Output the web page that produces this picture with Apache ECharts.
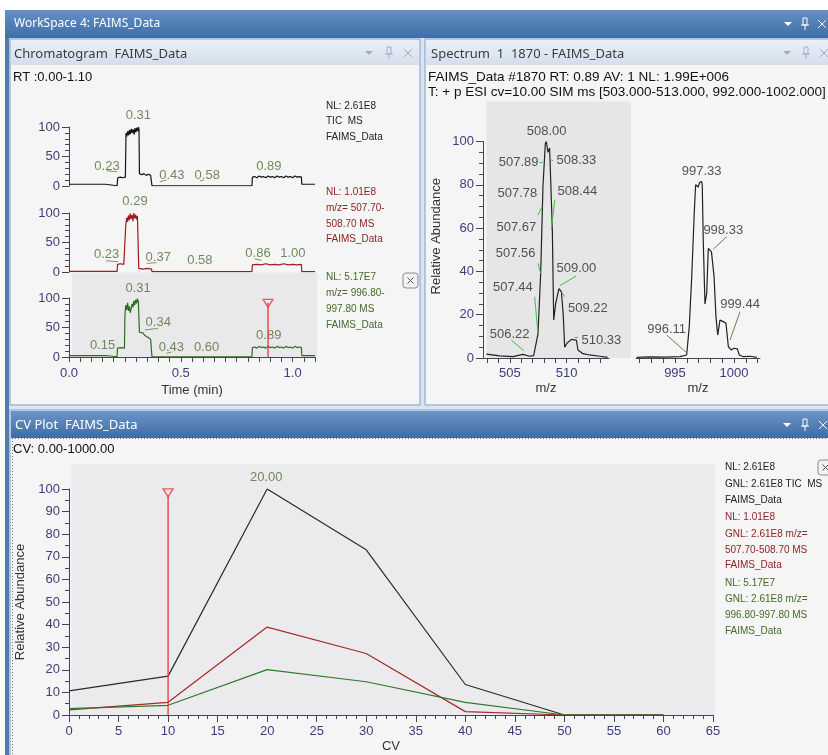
<!DOCTYPE html>
<html><head><meta charset="utf-8">
<script src="https://cdn.jsdelivr.net/npm/echarts@6/dist/echarts.min.js"></script>
<style>html,body{margin:0;padding:0;background:#fff}#c{width:828px;height:755px}</style>
</head><body><div id="c"></div>
<script>
// ================= DATA =================
// Chromatogram (time in min, relative abundance %)
const timeTicks = [0,0.05,0.1,0.15,0.2,0.25,0.3,0.35,0.4,0.45,0.5,0.55,0.6,0.65,0.7,0.75,0.8,0.85,0.9,0.95,1.0,1.05,1.1];
const timeLabels = [0,0.5,1.0];
const ticTrace = [[0,3],[0.04,3],[0.08,3],[0.12,3],[0.164,3],[0.166,0.4],[0.215,0.4],[0.218,14],[0.23,15],[0.24,14],[0.252,15],[0.255,90],[0.259,84],[0.263,93],[0.267,86],[0.271,95],[0.275,88],[0.279,97],[0.283,90],[0.287,96],[0.291,87],[0.295,98],[0.299,91],[0.303,99],[0.307,93],[0.311,100],[0.313,96],[0.315,21],[0.325,19],[0.335,21],[0.345,18],[0.355,20],[0.365,18],[0.369,19],[0.371,0.4],[0.5,0.4],[0.65,0.4],[0.818,0.4],[0.82,15],[0.83,16],[0.84,14],[0.85,17],[0.86,15],[0.87,16],[0.88,14],[0.89,17],[0.9,15],[0.91,16],[0.92,14],[0.93,17],[0.94,15],[0.95,16],[0.96,14],[0.97,17],[0.98,15],[0.99,16],[1.0,14],[1.01,17],[1.02,15],[1.03,16],[1.039,15],[1.041,3],[1.1,3]];
const mz508Trace = [[0,1],[0.1,1],[0.215,1],[0.217,13],[0.23,14],[0.245,13],[0.252,14],[0.254,80],[0.258,92],[0.262,85],[0.266,96],[0.27,88],[0.274,99],[0.278,90],[0.282,97],[0.286,86],[0.29,100],[0.294,91],[0.298,97],[0.302,89],[0.306,95],[0.31,92],[0.312,6],[0.33,5],[0.35,6],[0.369,5],[0.371,0.5],[0.6,0.5],[0.818,0.5],[0.82,12],[0.84,13],[0.86,12],[0.88,14],[0.9,12],[0.92,13],[0.94,12],[0.96,14],[0.98,12],[1.0,13],[1.02,12],[1.039,13],[1.041,0.5],[1.1,0.5]];
const mz997Trace = [[0,2.5],[0.05,2.5],[0.1,2.5],[0.164,2.5],[0.166,0.4],[0.215,0.4],[0.217,15],[0.232,16],[0.248,15],[0.25,70],[0.254,88],[0.258,80],[0.262,92],[0.266,78],[0.27,86],[0.274,75],[0.278,82],[0.282,90],[0.286,84],[0.29,95],[0.294,88],[0.298,97],[0.302,91],[0.306,99],[0.31,94],[0.313,97],[0.315,42],[0.322,40],[0.33,41],[0.338,37],[0.346,38],[0.354,33],[0.36,35],[0.365,30],[0.369,31],[0.371,0.4],[0.6,0.4],[0.818,0.4],[0.82,16],[0.83,17],[0.84,15],[0.85,18],[0.86,16],[0.87,17],[0.88,15],[0.89,18],[0.9,16],[0.91,17],[0.92,15],[0.93,18],[0.94,16],[0.95,17],[0.96,15],[0.97,18],[0.98,16],[0.99,17],[1.0,15],[1.01,18],[1.02,16],[1.03,17],[1.039,16],[1.041,2.5],[1.1,2.5]];
const ticPeaks = [['0.31',0.31,119],['0.23',0.17,32.7],['0.43',0.46,17.5],['0.58',0.618,17.5],['0.89',0.894,32.7]];
const mz508Peaks = [['0.29',0.295,119],['0.23',0.168,30.5],['0.37',0.399,24.9],['0.58',0.585,19.2],['0.86',0.845,31.7],['1.00',1.001,31.7]];
const mz997Peaks = [['0.31',0.309,116],['0.34',0.399,58.8],['0.15',0.15,20.3],['0.43',0.458,16.4],['0.60',0.615,16.4],['0.89',0.893,36]];
const ticLeaders = [[[0.168,26],[0.215,24]],[[0.406,7.3],[0.436,10.2]],[[0.585,8.5],[0.603,10]]];
const mz508Leaders = [[[0.165,19],[0.22,17.5]],[[0.347,14.7],[0.392,15.8]],[[0.83,22],[0.86,20]]];
const mz997Leaders = [[[0.339,45.8],[0.399,48.6]],[[0.436,6.3],[0.458,8.5]]];
const chromMarkerTime = 0.89;

// Spectrum (m/z, relative abundance %)
const specTicks1 = [503,504,505,506,507,508,509,510,511,512,513];
const specLabels1 = [505,510];
const specTicks2 = [992,993,994,995,996,997,998,999,1000,1001,1002];
const specLabels2 = [995,1000];
const spectrum1 = [[502.92,1.8],[504.09,1.0],[505.26,0.6],[506.15,1.7],[506.74,0.8],[507.09,1.1],[507.18,1.4],[507.47,11],[507.71,39],[507.91,79],[508.12,99],[508.21,100],[508.35,95],[508.5,97],[508.74,59],[508.86,17.5],[509.03,25],[509.32,32],[509.54,30.6],[509.7,20],[509.83,5],[510.03,6.8],[510.42,8.6],[510.86,8.3],[511.0,3.7],[511.44,2],[512.03,1.4],[512.91,0.8],[513.62,0.3]];
const spectrum2 = [[991.75,0.3],[992.88,0.5],[994.15,0.4],[995.42,0.6],[995.99,1.4],[996.21,14.5],[996.42,37.6],[996.64,68],[996.75,80],[996.84,80.7],[996.97,79],[997.08,81],[997.26,81.5],[997.31,80],[997.4,53],[997.54,25],[997.69,30],[997.82,50.6],[997.97,51],[998.09,49],[998.19,49.6],[998.31,37.6],[998.47,19],[998.62,10.6],[998.81,17.5],[999.09,16.8],[999.32,16],[999.52,5.2],[999.75,3.7],[1000.0,4.5],[1000.28,4.2],[1000.45,1.4],[1000.79,0.6],[1001.36,0.8],[1001.92,0.3]];
const spec1Peaks = [['508.00',508.24,104.5],['507.89',505.77,90.5],['508.33',510.86,91.1],['507.78',505.65,75.8],['508.44',510.95,76.8],['507.67',505.56,60.4],['507.56',505.5,48.4],['509.00',510.86,41.4],['507.44',505.26,32.7],['509.22',511.88,23],['506.22',504.97,11.1],['510.33',513.07,8.3]];
const spec1Leaders = [[[507.62,90.2],[507.86,90.2]],[[508.5,91.9],[508.8,91.1]],[[507.47,66],[507.86,70.2]],[[508.95,73],[508.65,59.1]],[[507.47,43.7],[507.71,39.1]],[[510.86,37.9],[509.39,33.4]],[[507.18,28.3],[507.47,11.4]],[[509.54,30.6],[509.83,28.3]],[[505.12,8.3],[506.21,3.4]],[[510.71,9.8],[511.0,9.8]]];
const spec2Peaks = [['997.33',997.26,86],['998.33',999.09,58.8],['999.44',1000.51,24.9],['996.11',994.3,13.3]];
const spec2Leaders = [[[999.38,56],[998.25,50.3]],[[1000.51,21.4],[999.66,8.3]],[[994.3,10.6],[995.99,2.4]]];

// CV plot
const cvValues = [0,10,20,30,40,50,60];
const cvTic = [10.7,17.2,100,73.1,13.5,0,0];
const cvMz508 = [2.3,5.6,38.9,27.2,1.5,0,0];
const cvMz997 = [2.8,4.3,20.1,14.7,5.6,0,0];
const cvPeaks = [['20.00',19.9,105.3]];
const cvMarkerCV = 10;

// ================= STYLE / LAYOUT =================
const FONT = '"Liberation Sans", Arial, sans-serif';
const UI = '"Noto Sans", "Open Sans", sans-serif';
const AX = '#3e4658';
const LBL = '#3b3e78';
const C_BLACK = '#151515', C_RED = '#9a1e1e', C_GREEN = '#2e6c22';
const LBL_GREEN = '#4f6e33';

function yAxisCfg(gi, o) {
  return {
    type: 'value', gridIndex: gi, min: 0, max: 100, interval: o.interval, show: o.show !== false,
    axisLine: {show: true, lineStyle: {color: AX, width: 1}},
    axisTick: {show: true, length: 7, lineStyle: {color: AX}},
    minorTick: {show: true, splitNumber: o.minor, length: 4, lineStyle: {color: AX}},
    splitLine: {show: false}, minorSplitLine: {show: false},
    axisLabel: {color: LBL, fontSize: 13, fontFamily: FONT, margin: 9},
    name: o.name || '', nameLocation: 'middle', nameGap: o.nameGap || 0,
    nameTextStyle: {color: '#333', fontSize: 13, fontFamily: FONT, padding: o.namePad || 0}
  };
}
function xAxisCustom(gi, min, max, ticks, labels, fmt, o) {
  return {
    type: 'value', gridIndex: gi, min: min, max: max, show: o.show !== false,
    axisLine: {show: true, onZero: false, lineStyle: {color: AX, width: 1}},
    axisTick: {show: true, length: o.tickLen || 5, customValues: ticks, lineStyle: {color: AX}},
    splitLine: {show: false},
    axisLabel: {color: LBL, fontSize: 13, fontFamily: FONT, margin: o.margin || 9, customValues: labels, formatter: fmt},
    name: o.name || '', nameLocation: 'middle', nameGap: o.nameGap || 0,
    nameTextStyle: {color: '#333', fontSize: 13, fontFamily: FONT}
  };
}

const grids = [
  {left: 69, top: 127, width: 246, height: 59},
  {left: 69, top: 213, width: 246, height: 59},
  {left: 69, top: 298, width: 246, height: 59},
  {left: 483, top: 141.5, width: 126, height: 216.5},
  {left: 636, top: 141.5, width: 124, height: 216.5},
  {left: 69, top: 489, width: 644, height: 226}
].map(g => Object.assign({outerBoundsMode: 'none', containLabel: false}, g));

const tfmt = v => Number(v).toFixed(1);
const xAxes = [
  xAxisCustom(0, 0, 1.1, timeTicks, timeLabels, tfmt, {show: false}),
  xAxisCustom(1, 0, 1.1, timeTicks, timeLabels, tfmt, {show: false}),
  xAxisCustom(2, 0, 1.1, timeTicks, timeLabels, tfmt, {name: 'Time (min)', nameGap: 27, margin: 10}),
  xAxisCustom(3, 502.62, 513.74, specTicks1, specLabels1, v => String(v), {name: 'm/z', nameGap: 24}),
  xAxisCustom(4, 991.7, 1002.2, specTicks2, specLabels2, v => String(v), {name: 'm/z', nameGap: 24}),
  {
    type: 'value', gridIndex: 5, min: 0, max: 65, interval: 5,
    axisLine: {show: true, onZero: false, lineStyle: {color: AX}},
    axisTick: {show: true, length: 7, lineStyle: {color: AX}},
    minorTick: {show: true, splitNumber: 5, length: 4, lineStyle: {color: AX}},
    splitLine: {show: false}, minorSplitLine: {show: false},
    axisLabel: {color: LBL, fontSize: 13, fontFamily: FONT, margin: 10, showMinLabel: true, showMaxLabel: true},
    name: 'CV', nameLocation: 'middle', nameGap: 25,
    nameTextStyle: {color: '#333', fontSize: 13, fontFamily: FONT}
  }
];
const yAxes = [
  yAxisCfg(0, {interval: 50, minor: 5}),
  yAxisCfg(1, {interval: 50, minor: 5}),
  yAxisCfg(2, {interval: 50, minor: 5}),
  yAxisCfg(3, {interval: 20, minor: 4, name: 'Relative Abundance', nameGap: 40, namePad: [0, 0, 0, 27]}),
  yAxisCfg(4, {interval: 20, minor: 4, show: false}),
  yAxisCfg(5, {interval: 10, minor: 2, name: 'Relative Abundance', nameGap: 40})
];

const series = [];
function trace(i, data, color, w) {
  series.push({type: 'line', xAxisIndex: i, yAxisIndex: i, data: data, symbol: 'none', showSymbol: false,
    lineStyle: {color: color, width: w || 1.2}, z: 3, silent: true});
}
function labels(i, arr, color, size) {
  series.push({type: 'scatter', xAxisIndex: i, yAxisIndex: i, clip: false, symbolSize: 1, silent: true, z: 4,
    itemStyle: {color: 'rgba(0,0,0,0)'},
    data: arr.map(a => ({name: a[0], value: [a[1], a[2]]})),
    label: {show: true, position: 'inside', formatter: '{b}', color: color, fontSize: size || 13, fontFamily: FONT}});
}
function leaders(i, arr, color) {
  series.push({type: 'lines', coordinateSystem: 'cartesian2d', xAxisIndex: i, yAxisIndex: i, clip: false, silent: true, z: 4,
    lineStyle: {color: color, width: 1, opacity: 1}, data: arr.map(s => ({coords: s}))});
}
function marker(i, x, lineTop, triV) {
  series.push({type: 'line', xAxisIndex: i, yAxisIndex: i, data: [[x, 0], [x, lineTop]], symbol: 'none',
    lineStyle: {color: '#e8373a', width: 1.3}, z: 5, silent: true});
  series.push({type: 'scatter', xAxisIndex: i, yAxisIndex: i, clip: false, data: [[x, triV]], symbol: 'triangle',
    symbolRotate: 180, symbolSize: [10, 8], z: 6, silent: true,
    itemStyle: {color: 'rgba(255,255,255,0)', borderColor: '#e8373a', borderWidth: 1.3}});
}

trace(0, ticTrace, C_BLACK);
trace(1, mz508Trace, C_RED);
trace(2, mz997Trace, C_GREEN);
labels(0, ticPeaks, LBL_GREEN); labels(1, mz508Peaks, LBL_GREEN); labels(2, mz997Peaks, LBL_GREEN);
leaders(0, ticLeaders, '#7f9a52'); leaders(1, mz508Leaders, '#7f9a52'); leaders(2, mz997Leaders, '#7f9a52');
marker(2, chromMarkerTime, 92, 91);

trace(3, spectrum1, '#222', 1.2);
trace(4, spectrum2, '#222', 1.2);
labels(3, spec1Peaks, '#2b2b2b'); labels(4, spec2Peaks, '#2b2b2b');
leaders(3, spec1Leaders, '#3fbf3f'); leaders(4, spec2Leaders, '#6f7d4a');

trace(5, cvValues.map((c, k) => [c, cvTic[k]]), '#2a2a2a', 1.2);
trace(5, cvValues.map((c, k) => [c, cvMz508[k]]), '#a52a2a', 1.2);
trace(5, cvValues.map((c, k) => [c, cvMz997[k]]), '#2f7a2a', 1.2);
labels(5, cvPeaks, LBL_GREEN);
marker(5, cvMarkerCV, 97, 98.3);

// ================= WINDOW CHROME (graphic) =================
const G = [];
function rect(x, y, w, h, fill, stroke, z) {
  G.push({type: 'rect', silent: true, z: z === undefined ? -10 : z, shape: {x: x, y: y, width: w, height: h},
    style: {fill: fill, stroke: stroke || null, lineWidth: 1}});
}
function line(x1, y1, x2, y2, color, dash, z) {
  G.push({type: 'line', silent: true, z: z === undefined ? -5 : z, shape: {x1: x1, y1: y1, x2: x2, y2: y2},
    style: {stroke: color, lineWidth: 1, lineDash: dash || null}});
}
function text(x, y, s, color, size, family, align) {
  G.push({type: 'text', silent: true, z: 10, x: x, y: y,
    style: {text: s, fill: color, fontSize: size, fontFamily: family || FONT,
      textAlign: align || 'left', align: align || 'left', textVerticalAlign: 'middle', verticalAlign: 'middle'}});
}
function vgrad(a, b) { return {type: 'linear', x: 0, y: 0, x2: 0, y2: 1, colorStops: [{offset: 0, color: a}, {offset: 1, color: b}]}; }
function icons(xd, xp, xc, cy, color) {
  G.push({type: 'polygon', silent: true, z: 10, shape: {points: [[xd - 4, cy - 2], [xd + 4, cy - 2], [xd, cy + 2]]}, style: {fill: color}});
  rect(xp - 2, cy - 6, 4, 7, 'rgba(0,0,0,0)', color, 10);
  line(xp - 4, cy + 1, xp + 4, cy + 1, color, null, 10);
  line(xp, cy + 1, xp, cy + 6, color, null, 10);
  line(xc - 4, cy - 4, xc + 4, cy + 4, color, null, 10);
  line(xc - 4, cy + 4, xc + 4, cy - 4, color, null, 10);
}
function closeBox(x, y) {
  G.push({type: 'rect', silent: true, z: 10, shape: {x: x, y: y, width: 15, height: 15, r: 3},
    style: {fill: '#f2f2f2', stroke: '#8a8a8a', lineWidth: 1}});
  line(x + 4.5, y + 4.5, x + 10.5, y + 10.5, '#555', null, 11);
  line(x + 4.5, y + 10.5, x + 10.5, y + 4.5, '#555', null, 11);
}

// base
rect(0, 0, 828, 755, '#ffffff', null, -20);
rect(5, 10, 823, 745, '#dbe4ef', null, -19);
// workspace title bar
rect(5, 10, 823, 28, vgrad('#6591c5', '#3f6da6'), null, -9);
text(14, 24, 'WorkSpace 4: FAIMS_Data', '#ffffff', 12, UI);
icons(788, 805, 822, 24, '#ffffff');
// left outer frame
rect(5, 38, 4, 717, '#4f7bb2', null, -9);
// chromatogram panel
rect(10, 39, 410, 366, '#f5f5f5', '#7f9ec6', -9);
rect(11, 40, 408, 25, vgrad('#eaf0f8', '#d3deec'), null, -8);
text(14, 54, 'Chromatogram  FAIMS_Data', '#3c3c3c', 13, UI);
icons(369, 389, 408, 53, '#a6adb8');
text(13, 77, 'RT :0.00-1.10', '#111', 13);
rect(72, 272.5, 245, 84.5, '#e9e9eb', null, -7);
// spectrum panel
rect(425, 39, 410, 366, '#f5f5f5', '#7f9ec6', -9);
rect(426, 40, 408, 25, vgrad('#eaf0f8', '#d3deec'), null, -8);
text(431, 54, 'Spectrum  1  1870 - FAIMS_Data', '#3c3c3c', 13, UI);
icons(787, 806, 824, 53, '#a6adb8');
text(428, 77, 'FAIMS_Data #1870 RT: 0.89 AV: 1 NL: 1.99E+006', '#111', 13.5);
text(428, 92, 'T: + p ESI cv=10.00 SIM ms [503.000-513.000, 992.000-1002.000]', '#111', 13.5);
rect(486.5, 101.5, 144.5, 256.5, '#e6e6e8', null, -7);
// CV panel
rect(10, 410, 825, 350, '#f5f5f5', '#7f9ec6', -9);
rect(11, 411, 823, 27, vgrad('#6a95c8', '#3f6ca5'), null, -8);
text(15, 425, 'CV Plot  FAIMS_Data', '#ffffff', 13, UI);
icons(787, 805, 823, 425, '#ffffff');
line(12, 438.5, 828, 438.5, '#777', [1, 2]);
line(12.5, 438, 12.5, 755, '#777', [1, 2]);
text(13, 449, 'CV: 0.00-1000.00', '#111', 13);
rect(71.5, 464.5, 643.5, 250.5, '#ebebed', null, -7);

// annotation blocks (chromatogram)
const chromNotes = [['NL: 2.61E8', '#222'], ['TIC  MS', '#222'], ['FAIMS_Data', '#222']];
const chromNotes2 = [['NL: 1.01E8', '#8e2424'], ['m/z= 507.70-', '#8e2424'], ['508.70 MS', '#8e2424'], ['FAIMS_Data', '#8e2424']];
const chromNotes3 = [['NL: 5.17E7', '#46692a'], ['m/z= 996.80-', '#46692a'], ['997.80 MS', '#46692a'], ['FAIMS_Data', '#46692a']];
chromNotes.forEach((n, k) => text(326, 106 + k * 15.6, n[0], n[1], 10));
chromNotes2.forEach((n, k) => text(326, 192.7 + k * 15.6, n[0], n[1], 10));
chromNotes3.forEach((n, k) => text(326, 277.7 + k * 16, n[0], n[1], 10));
closeBox(403, 273);
// annotation block (CV)
const cvNotes = [
  ['NL: 2.61E8', '#222'], ['GNL: 2.61E8 TIC  MS', '#222'], ['FAIMS_Data', '#222'],
  ['NL: 1.01E8', '#8e2424'], ['GNL: 2.61E8 m/z=', '#8e2424'], ['507.70-508.70 MS', '#8e2424'], ['FAIMS_Data', '#8e2424'],
  ['NL: 5.17E7', '#46692a'], ['GNL: 2.61E8 m/z=', '#46692a'], ['996.80-997.80 MS', '#46692a'], ['FAIMS_Data', '#46692a']
];
const cvNoteY = [467.7, 484.3, 500, 517.7, 534, 550, 565.7, 583.3, 599.3, 615.7, 631];
cvNotes.forEach((n, k) => text(725, cvNoteY[k], n[0], n[1], 10));
closeBox(818, 460);

const chart = echarts.init(document.getElementById('c'), null, {renderer: 'canvas', width: 828, height: 755});
chart.setOption({
  animation: false,
  backgroundColor: '#ffffff',
  textStyle: {fontFamily: FONT},
  grid: grids, xAxis: xAxes, yAxis: yAxes, series: series,
  graphic: {elements: G}
});
</script></body></html>
